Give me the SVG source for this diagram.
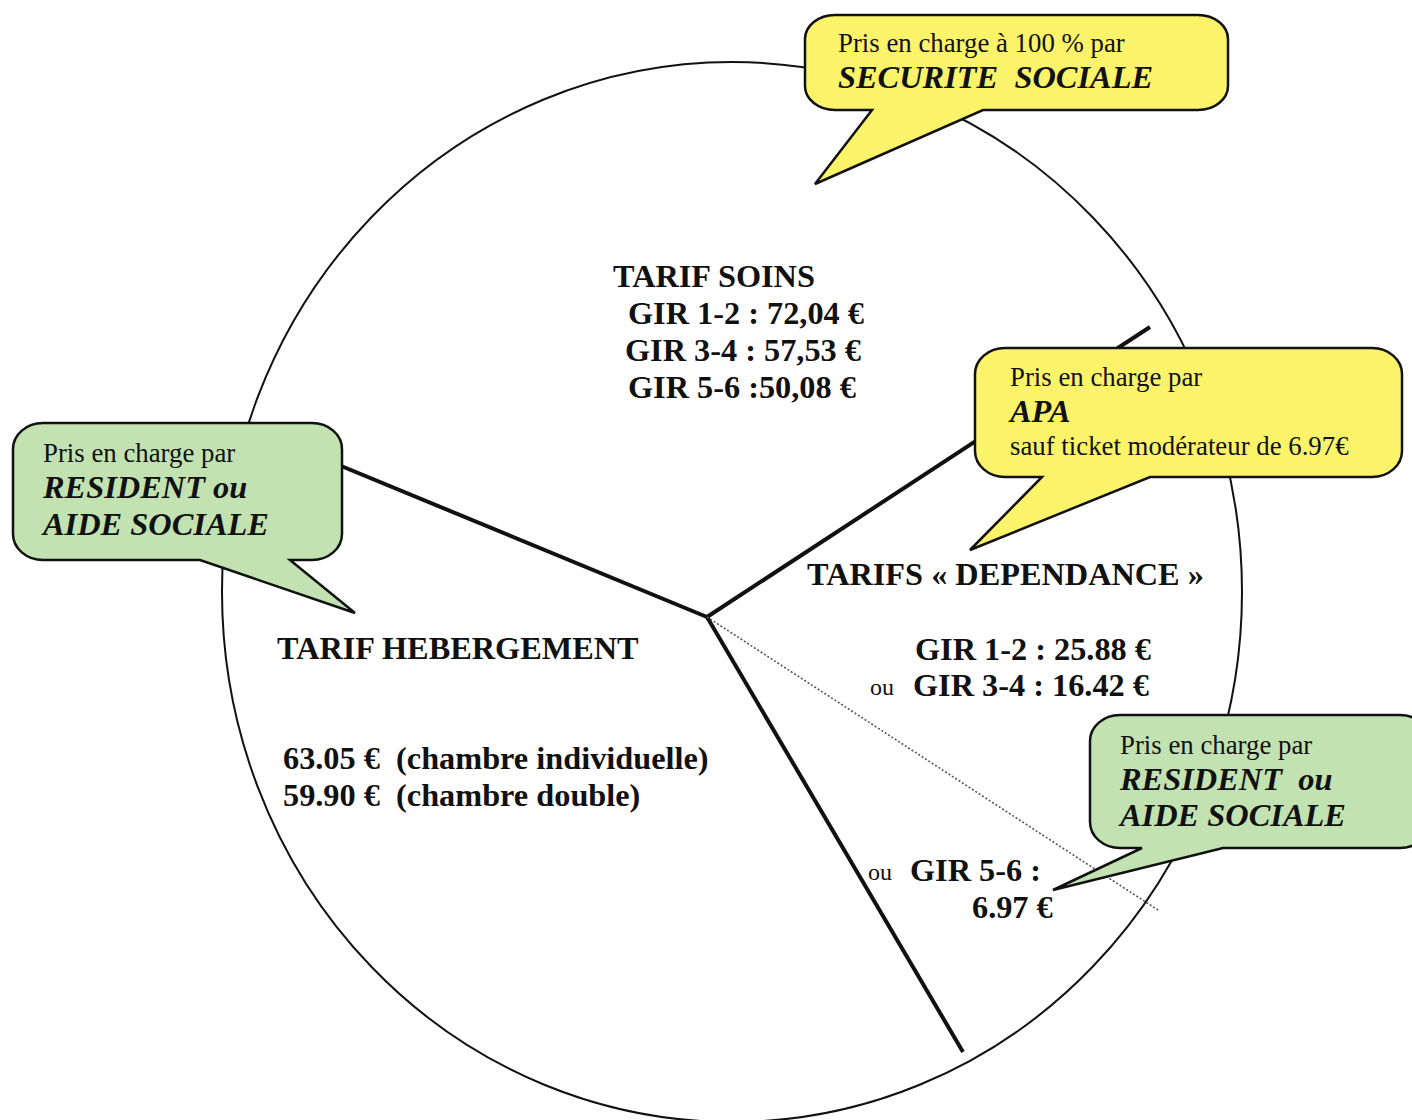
<svg xmlns="http://www.w3.org/2000/svg" width="1412" height="1120" viewBox="0 0 1412 1120">
<style>
  .t { font-family: "Liberation Serif", "Times New Roman", serif; fill: #111; white-space: pre; }
  .big { font-size: 32.3px; font-weight: bold; }
  .reg { font-size: 26.8px; }
  .bi { font-size: 32.4px; font-weight: bold; font-style: italic; }
  .ou { font-size: 24px; }
  .yel { fill: #FBF46B; stroke: #111; stroke-width: 2.5; stroke-linejoin: miter; }
  .grn { fill: #C3E2B2; stroke: #111; stroke-width: 2.5; stroke-linejoin: miter; }
  .seg { stroke: #111; stroke-width: 4; fill: none; stroke-linecap: butt; }
</style>
<rect width="1412" height="1120" fill="#fff"/>
<g id="connectors">
  <ellipse cx="732" cy="592" rx="510" ry="530" fill="none" stroke="#111" stroke-width="2"/>
  <line class="seg" x1="707" y1="617" x2="300" y2="449"/>
  <line class="seg" x1="707" y1="617" x2="1150" y2="327"/>
  <line class="seg" x1="707" y1="617" x2="963" y2="1052"/>
  <line x1="707" y1="617" x2="1158" y2="910" stroke="#555" stroke-width="1.6" stroke-dasharray="2,2"/>
</g>
<g id="tarif-soins">
  <text class="t big" x="613" y="287">TARIF SOINS</text>
  <text class="t big" x="628" y="324">GIR 1-2 : 72,04 €</text>
  <text class="t big" x="625" y="361">GIR 3-4 : 57,53 €</text>
  <text class="t big" x="628" y="398">GIR 5-6 :50,08 €</text>
</g>
<g id="tarifs-dependance">
  <text class="t big" x="807" y="585">TARIFS « DEPENDANCE »</text>
  <text class="t big" x="915" y="660">GIR 1-2 : 25.88 €</text>
  <text class="t ou" x="870" y="695">ou</text>
  <text class="t big" x="913" y="696">GIR 3-4 : 16.42 €</text>
  <text class="t ou" x="868" y="880">ou</text>
  <text class="t big" x="910" y="881">GIR 5-6 :</text>
  <text class="t big" x="972" y="918">6.97 €</text>
</g>
<g id="tarif-hebergement">
  <text class="t big" x="277" y="659">TARIF HEBERGEMENT</text>
  <text class="t big" x="283" y="769">63.05 €  (chambre individuelle)</text>
  <text class="t big" x="283" y="806">59.90 €  (chambre double)</text>
</g>
<g id="callout-securite">
  <path class="yel" d="M835,15 H1198 A30,24 0 0 1 1228,39 V86 A30,24 0 0 1 1198,110 H983 L815,184 L872,110 H835 A30,24 0 0 1 805,86 V39 A30,24 0 0 1 835,15 Z"/>
  <text class="t reg" x="838" y="52">Pris en charge à 100 % par</text>
  <text class="t bi" x="838" y="88">SECURITE  SOCIALE</text>
</g>
<g id="callout-apa">
  <path class="yel" d="M1005,348 H1372 A30,26 0 0 1 1402,374 V451 A30,26 0 0 1 1372,477 H1150 L970,550 L1042,477 H1005 A30,26 0 0 1 975,451 V374 A30,26 0 0 1 1005,348 Z"/>
  <text class="t reg" x="1010" y="386">Pris en charge par</text>
  <text class="t bi" x="1010" y="422">APA</text>
  <text class="t reg" x="1010" y="455">sauf ticket modérateur de 6.97€</text>
</g>
<g id="callout-resident-left">
  <path class="grn" d="M43,423 H312 A30,26 0 0 1 342,449 V534 A30,26 0 0 1 312,560 H290 L355,613 L200,560 H43 A30,26 0 0 1 13,534 V449 A30,26 0 0 1 43,423 Z"/>
  <text class="t reg" x="43" y="462">Pris en charge par</text>
  <text class="t bi" x="43" y="498">RESIDENT ou</text>
  <text class="t bi" x="43" y="535">AIDE SOCIALE</text>
</g>
<g id="callout-resident-right">
  <path class="grn" d="M1120,715 H1400 A30,26 0 0 1 1430,741 V822 A30,26 0 0 1 1400,848 H1223 L1053,890 L1142,848 H1120 A30,26 0 0 1 1090,822 V741 A30,26 0 0 1 1120,715 Z"/>
  <text class="t reg" x="1120" y="754">Pris en charge par</text>
  <text class="t bi" x="1120" y="790">RESIDENT  ou</text>
  <text class="t bi" x="1120" y="826">AIDE SOCIALE</text>
</g>
</svg>
